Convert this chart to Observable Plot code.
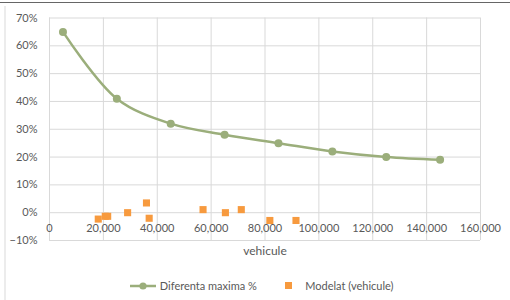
<!DOCTYPE html>
<html><head><meta charset="utf-8">
<script src="https://cdn.jsdelivr.net/npm/d3@7"></script>
<script src="https://cdn.jsdelivr.net/npm/@observablehq/plot@0.6"></script>
<style>
body{margin:0;background:#fff;font-family:Lato,"Open Sans",sans-serif;}
#wrap{position:relative;width:510px;height:300px;overflow:hidden;background:#fff;}
#topline{position:absolute;left:0;top:2px;width:510px;height:1px;background:#666;}
#leftline{position:absolute;left:4px;top:6px;width:2px;height:294px;background:#ececec;}
#chart{position:absolute;left:0;top:0;}
.leg{position:absolute;top:279px;font-size:11px;color:#595959;white-space:nowrap;line-height:14px;}
</style></head>
<body>
<div id="wrap">
<div id="topline"></div>
<div id="leftline"></div>
<div id="chart"></div>
<div class="leg" style="left:129px;"><svg width="28" height="12" style="vertical-align:middle;margin-top:-2px"><line x1="1" y1="6" x2="27" y2="6" stroke="#9bae7b" stroke-width="2.5"/><circle cx="14" cy="6" r="3.6" fill="#9bae7b"/></svg> Diferenta maxima %</div>
<div class="leg" style="left:284px;"><svg width="10" height="12" style="vertical-align:middle;margin-top:-2px"><rect x="1" y="2" width="7" height="7" fill="#f79a3e"/></svg>&nbsp;&nbsp;&nbsp; Modelat (vehicule)</div>
</div>
<script>
const seriesX = [5000, 25000, 45000, 65000, 85000, 105000, 125000, 145000];
const seriesY = [0.65, 0.41, 0.32, 0.28, 0.25, 0.22, 0.20, 0.19];
const modelX = [18100, 20700, 21600, 29000, 36000, 37000, 57000, 65300, 71200, 81800, 91500];
const modelY = [-0.023, -0.013, -0.013, 0.0, 0.035, -0.02, 0.011, 0.0, 0.011, -0.028, -0.028];
const xTicks = [0, 20000, 40000, 60000, 80000, 100000, 120000, 140000, 160000];
const yTicks = [-0.1, 0, 0.1, 0.2, 0.3, 0.4, 0.5, 0.6, 0.7];
const xTitle = "vehicule";

const line = seriesX.map((x, i) => ({x, y: seriesY[i]}));
const model = modelX.map((x, i) => ({x, y: modelY[i]}));
const fmtX = d3.format(",");
const fmtY = d3.format(".0%");

const chart = Plot.plot({
  width: 510,
  height: 266,
  marginLeft: 49,
  marginRight: 30,
  marginTop: 17.5,
  marginBottom: 26,
  style: {fontFamily: "Lato, 'Open Sans', sans-serif", fontSize: "11px", color: "#595959", background: "transparent"},
  x: {domain: [0, 160000], axis: null},
  y: {domain: [-0.1, 0.7], axis: null},
  marks: [
    Plot.ruleY(yTicks, {stroke: "#d9d9d9", strokeWidth: 1}),
    Plot.ruleX(xTicks, {stroke: "#d9d9d9", strokeWidth: 1}),
    Plot.text(yTicks, {x: 0, y: d => d, dx: -12, textAnchor: "end", text: d => fmtY(d), fill: "#595959", fontSize: 11}),
    Plot.text(xTicks, {x: d => d, y: 0, dy: 16, text: d => fmtX(d), fill: "#595959", fontSize: 11}),
    Plot.text([xTitle], {x: 80000, y: -0.1, dy: 11, text: d => d, fill: "#595959", fontSize: 12}),
    Plot.line(line, {x: "x", y: "y", stroke: "#9bae7b", strokeWidth: 2.5, curve: "catmull-rom"}),
    Plot.dot(line, {x: "x", y: "y", r: 4, fill: "#9bae7b", stroke: "none"}),
    Plot.dot(model, {x: "x", y: "y", symbol: "square", r: 4, fill: "#f79a3e", stroke: "none"})
  ]
});
document.getElementById("chart").appendChild(chart);
</script>
</body></html>
